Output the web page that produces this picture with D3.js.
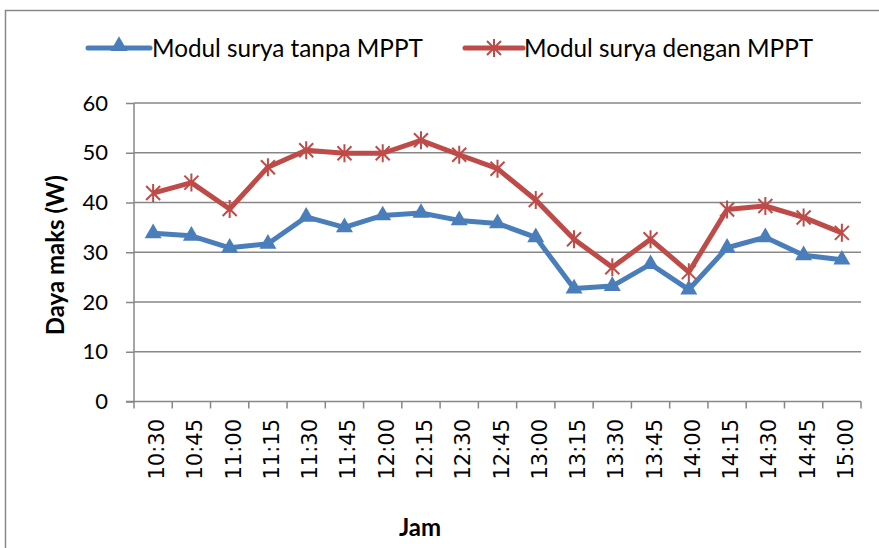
<!DOCTYPE html>
<html><head><meta charset="utf-8">
<script src="https://cdn.jsdelivr.net/npm/d3@7"></script>
<style>body{margin:0;background:#fff}svg{display:block}</style>
</head><body>
<script>
const categories = ["10:30","10:45","11:00","11:15","11:30","11:45","12:00","12:15","12:30","12:45","13:00","13:15","13:30","13:45","14:00","14:15","14:30","14:45","15:00"];
const tanpaMPPT = [33.8,33.3,30.9,31.7,37.1,35.0,37.4,37.9,36.4,35.8,33.0,22.7,23.2,27.6,22.5,30.9,33.0,29.4,28.5];
const denganMPPT = [41.9,44.0,38.7,47.1,50.5,49.9,49.9,52.5,49.6,46.8,40.5,32.6,27.0,32.6,26.0,38.6,39.3,37.0,33.9];
const yTicks = [0,10,20,30,40,50,60];
const seriesNames = ["Modul surya tanpa MPPT","Modul surya dengan MPPT"];

const W=879,H=548;
const svg=d3.select("body").append("svg").attr("width",W).attr("height",H);
const font="Lato, 'Open Sans', sans-serif";
// outer border
svg.append("rect").attr("x",5.5).attr("y",10.5).attr("width",W).attr("height",H).attr("fill","none").attr("stroke","#888").attr("stroke-width",1.5);

const L=134,R=861,T=103,B=401.5;
const x=d3.scaleBand().domain(categories).range([L,R]);
const y=d3.scaleLinear().domain([0,60]).range([B,T]);
const gc="#878787";

// gridlines
svg.append("g").selectAll("line").data(yTicks.filter(d=>d>0)).join("line")
 .attr("x1",L).attr("x2",R).attr("y1",d=>y(d)).attr("y2",d=>y(d))
 .attr("stroke",gc).attr("stroke-width",1.5);

// y axis
const ya=svg.append("g").attr("transform",`translate(${L},0)`).call(d3.axisLeft(y).tickValues(yTicks).tickSize(8).tickPadding(18));
ya.select(".domain").attr("stroke",gc).attr("stroke-width",1.5).attr("d",`M0,${B}V${T}`);
ya.selectAll(".tick line").attr("stroke",gc).attr("stroke-width",1.5);
ya.selectAll("text").attr("font-family",font).attr("font-size",22).attr("fill","#000");

// x axis
const xa=svg.append("g").attr("transform",`translate(0,${B})`);
xa.append("line").attr("x1",L-8).attr("x2",R).attr("y1",0).attr("y2",0).attr("stroke",gc).attr("stroke-width",1.5);
const bounds=categories.map(c=>x(c)).concat([R]);
xa.selectAll("line.t").data(bounds).join("line").attr("class","t")
 .attr("x1",d=>d).attr("x2",d=>d).attr("y1",0).attr("y2",7).attr("stroke",gc).attr("stroke-width",1.5);
xa.selectAll("text").data(categories).join("text")
 .attr("transform",d=>`translate(${x(d)+x.bandwidth()/2+11},${419-B}) rotate(-90)`)
 .attr("text-anchor","end").attr("font-family","'DejaVu Sans', sans-serif").attr("font-size",21).attr("fill","#000").text(d=>d);

// titles
svg.append("text").attr("transform",`translate(64,${(T+B)/2+3}) rotate(-90)`).attr("text-anchor","middle")
 .attr("font-family",font).attr("font-weight","bold").attr("font-size",24).text("Daya maks (W)");
svg.append("text").attr("x",420).attr("y",536).attr("text-anchor","middle")
 .attr("font-family",font).attr("font-weight","bold").attr("font-size",24).text("Jam");

const colors=["#4a7ebb","#be4b48"];
const line=d3.line().x((d,i)=>x(categories[i])+x.bandwidth()/2).y(d=>y(d));
[tanpaMPPT,denganMPPT].forEach((s,k)=>{
  svg.append("path").attr("d",line(s)).attr("fill","none").attr("stroke",colors[k]).attr("stroke-width",5).attr("stroke-linejoin","round");
});
const tri=d3.symbol().type(d3.symbolTriangle).size(125);
function star(g,cx,cy){
  const r=7;
  g.append("path").attr("d",`M${cx-r},${cy-r}L${cx+r},${cy+r}M${cx-r},${cy+r}L${cx+r},${cy-r}M${cx},${cy-r-2}L${cx},${cy+r+2}`)
   .attr("stroke",colors[1]).attr("stroke-width",2).attr("fill","none");
}
tanpaMPPT.forEach((v,i)=>{
  svg.append("path").attr("d",tri()).attr("transform",`translate(${x(categories[i])+x.bandwidth()/2},${y(v)})`).attr("fill",colors[0]);
});
const sg=svg.append("g");
denganMPPT.forEach((v,i)=>star(sg,x(categories[i])+x.bandwidth()/2,y(v)));

// legend
const lg=svg.append("g");
const items=[{x1:88,x2:150,tx:152},{x1:465,x2:523,tx:524}];
items.forEach((it,k)=>{
  lg.append("line").attr("x1",it.x1).attr("x2",it.x2).attr("y1",48).attr("y2",48).attr("stroke",colors[k]).attr("stroke-width",5).attr("stroke-linecap","round");
  if(k===0) lg.append("path").attr("d",tri()).attr("transform",`translate(${(it.x1+it.x2)/2},46)`).attr("fill",colors[0]);
  else star(lg,(it.x1+it.x2)/2,48);
  lg.append("text").attr("x",it.tx).attr("y",57).attr("font-family",font).attr("font-size",24.3).attr("fill","#000").text(seriesNames[k]);
});
</script>
</body></html>
